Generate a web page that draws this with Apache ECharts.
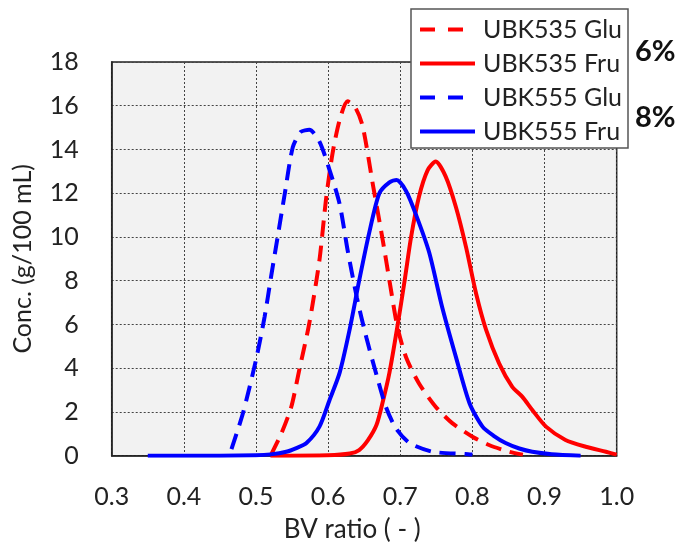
<!DOCTYPE html>
<html>
<head>
<meta charset="utf-8">
<script src="https://cdn.jsdelivr.net/npm/echarts@6/dist/echarts.min.js"></script>
<style>
html,body{margin:0;padding:0;background:#fff;}
#c{width:683px;height:542px;}
</style>
</head>
<body>
<div id="c"></div>
<script>
// ---- data ----
const seriesNames = ['UBK535 Glu', 'UBK535 Fru', 'UBK555 Glu', 'UBK555 Fru'];
const xTicks = [0.3, 0.4, 0.5, 0.6, 0.7, 0.8, 0.9, 1.0];
const yTicks = [0, 2, 4, 6, 8, 10, 12, 14, 16, 18];
const sideLabels = ['6%', '8%'];

const glu535X = [0.521,0.535,0.549,0.560,0.574,0.588,0.597,0.606,0.616,0.627,0.638,0.648,0.662,0.676,0.686,0.696,0.708,0.726,0.749,0.772,0.800,0.823,0.851,0.870];
const glu535Y = [0.05,1.0,2.24,3.92,6.07,8.95,11.7,13.8,15.35,16.2,15.9,15.05,12.4,9.8,7.8,5.9,4.5,3.3,2.24,1.49,0.87,0.49,0.18,0.05];

const fru535X = [0.52,0.60,0.63,0.643,0.655,0.667,0.676,0.685,0.696,0.706,0.715,0.726,0.738,0.749,0.763,0.777,0.791,0.805,0.819,0.837,0.855,0.869,0.883,0.902,0.929,0.957,0.985,1.0];
const fru535Y = [0,0.02,0.1,0.26,0.7,1.4,2.5,3.8,5.9,8.0,10.0,11.85,13.06,13.45,12.76,11.38,9.56,7.43,5.75,4.22,3.16,2.7,2.09,1.33,0.72,0.41,0.18,0.05];

const glu555X = [0.466,0.482,0.500,0.512,0.521,0.530,0.540,0.551,0.562,0.574,0.588,0.602,0.616,0.627,0.640,0.653,0.667,0.680,0.694,0.713,0.745,0.790,0.800];
const glu555Y = [0.3,1.95,4.38,6.36,8.2,10.0,12.0,14.1,14.8,14.9,14.36,13.06,11.5,9.4,7.2,5.4,3.7,2.24,1.25,0.58,0.18,0.08,0.05];

const fru555X = [0.35,0.45,0.50,0.52,0.542,0.556,0.570,0.588,0.602,0.616,0.630,0.643,0.657,0.671,0.685,0.695,0.708,0.722,0.740,0.758,0.777,0.796,0.814,0.830,0.846,0.865,0.883,0.910,0.950];
const fru555Y = [0,0,0.02,0.06,0.18,0.35,0.58,1.33,2.55,3.8,5.8,8.0,10.2,12.0,12.5,12.6,12.1,11.0,9.3,6.8,4.53,2.4,1.33,0.9,0.58,0.33,0.18,0.07,0];

// ---- chart ----
const FONT = 'Lato';
const pairs = (xs, ys) => xs.map((x, i) => [x, ys[i]]);
const RED = '#ff0000', BLUE = '#0000ff';
const DASH = [16, 9];
const LEGEND_DASH = [15, 13];

function line(name, data, color, dashed) {
  return {
    name: name, type: 'line', data: data,
    smooth: 0.25, symbol: 'none',
    lineStyle: {color: color, width: 4, type: dashed ? DASH : 'solid'},
    itemStyle: {color: 'rgba(0,0,0,0)', borderWidth: 0, borderColor: 'rgba(0,0,0,0)'},
    z: 3
  };
}

const chart = echarts.init(document.getElementById('c'), null, {renderer: 'canvas'});
chart.setOption({
  animation: false,
  backgroundColor: '#ffffff',
  textStyle: {fontFamily: FONT},
  grid: {
    left: 111.7, right: 66.3, top: 62, bottom: 86.3,
    show: true, backgroundColor: '#f2f2f2', borderColor: '#222', borderWidth: 1.5,
    containLabel: false, outerBoundsMode: 'none'
  },
  xAxis: {
    type: 'value', min: xTicks[0], max: xTicks[xTicks.length - 1], interval: 0.1,
    name: 'BV ratio ( - )', nameLocation: 'middle', nameGap: 61,
    nameTextStyle: {fontFamily: FONT, fontSize: 26, color: '#222', padding: [0, 24, 0, 0]},
    axisLine: {show: true, lineStyle: {color: '#222', width: 1.5}},
    axisTick: {show: false},
    axisLabel: {fontFamily: FONT, fontSize: 25, color: '#222', margin: 29,
      formatter: v => v.toFixed(1)},
    splitLine: {show: true, lineStyle: {color: '#444', width: 1, type: [2, 2]}}
  },
  yAxis: {
    type: 'value', min: yTicks[0], max: yTicks[yTicks.length - 1], interval: 2,
    name: 'Conc. (g/100 mL)', nameLocation: 'middle', nameGap: 76,
    nameTextStyle: {fontFamily: FONT, fontSize: 25, color: '#222'},
    axisLine: {show: true, lineStyle: {color: '#222', width: 1.5}},
    axisTick: {show: false},
    axisLabel: {fontFamily: FONT, fontSize: 25, color: '#222', margin: 33},
    splitLine: {show: true, lineStyle: {color: '#444', width: 1, type: [2, 2]}}
  },
  legend: {
    orient: 'vertical', left: 411, top: 9,
    padding: [8, 6, 4, 7],
    itemWidth: 55, itemHeight: 20, itemGap: 9,
    backgroundColor: '#ffffff', borderColor: '#555', borderWidth: 1.5,
    textStyle: {fontFamily: FONT, fontSize: 25, color: '#222', padding: [0, 0, 0, 3]},
    data: [
      {name: seriesNames[0], lineStyle: {type: LEGEND_DASH, width: 4}},
      {name: seriesNames[1], lineStyle: {width: 4}},
      {name: seriesNames[2], lineStyle: {type: LEGEND_DASH, width: 4}},
      {name: seriesNames[3], lineStyle: {width: 4}}
    ],
    z: 10
  },
  graphic: [
    {type: 'text', left: 635, top: 37, z: 20,
      style: {text: sideLabels[0], fontFamily: FONT, fontSize: 29, fontWeight: 'bold', fill: '#111'}},
    {type: 'text', left: 635, top: 103, z: 20,
      style: {text: sideLabels[1], fontFamily: FONT, fontSize: 29, fontWeight: 'bold', fill: '#111'}}
  ],
  series: [
    line(seriesNames[0], pairs(glu535X, glu535Y), RED, true),
    line(seriesNames[1], pairs(fru535X, fru535Y), RED, false),
    line(seriesNames[2], pairs(glu555X, glu555Y), BLUE, true),
    line(seriesNames[3], pairs(fru555X, fru555Y), BLUE, false)
  ]
});
</script>
</body>
</html>
